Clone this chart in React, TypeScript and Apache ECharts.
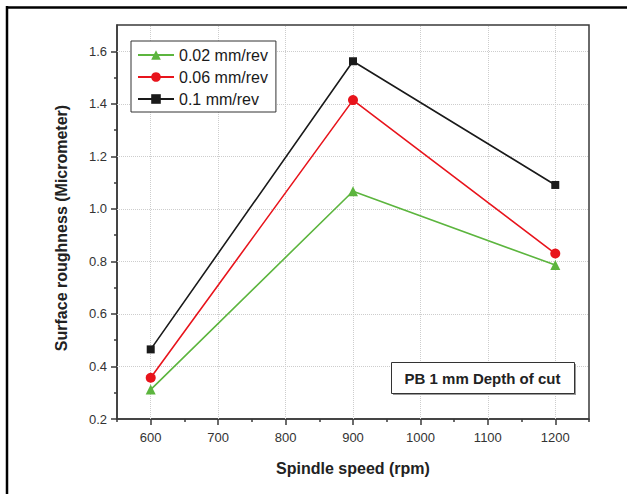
import React, { useEffect, useRef } from "react";
import * as echarts from "echarts";

const speeds = [600, 900, 1200];
const feed002 = [0.312, 1.067, 0.786];
const feed006 = [0.357, 1.414, 0.83];
const feed01 = [0.465, 1.562, 1.091];

const seriesNames = ["0.02 mm/rev", "0.06 mm/rev", "0.1 mm/rev"];
const xMajor = [600, 700, 800, 900, 1000, 1100, 1200];
const xMinor = [550, 650, 750, 850, 950, 1050, 1150, 1250];
const yMajor = [0.2, 0.4, 0.6, 0.8, 1.0, 1.2, 1.4, 1.6];
const yMinor = [0.3, 0.5, 0.7, 0.9, 1.1, 1.3, 1.5];
const annotation = "PB 1 mm Depth of cut";

const FONT = "'Liberation Sans', Arial, sans-serif";

export default function App() {
  const ref = useRef<HTMLDivElement>(null);
  useEffect(() => {
    const chart = echarts.init(ref.current!, null, { renderer: "svg" });
    const pairs = (vals: number[]) => speeds.map((s, i) => [s, vals[i]]);
    const axisLineStyle = { color: "#3a3a3a", width: 1.5 };
    chart.setOption({
      animation: false,
      backgroundColor: "#fff",
      grid: {
        left: 117,
        top: 25,
        right: 38,
        bottom: 75,
        show: true,
        borderColor: "#3a3a3a",
        borderWidth: 1.5,
        backgroundColor: "transparent",
      },
      legend: {
        orient: "vertical",
        left: 131,
        top: 41,
        padding: [6, 8, 5, 6],
        itemWidth: 36,
        itemHeight: 12,
        itemGap: 6,
        borderColor: "#333",
        borderWidth: 1,
        backgroundColor: "#fff",
        textStyle: { fontFamily: FONT, fontSize: 16, color: "#1a1a1a" },
        data: seriesNames,
      },
      xAxis: [
        {
          type: "value",
          min: 550,
          max: 1250,
          position: "bottom",
          name: "Spindle speed (rpm)",
          nameLocation: "middle",
          nameGap: 41,
          nameTextStyle: { fontFamily: FONT, fontSize: 16, fontWeight: "bold", color: "#222" },
          axisLine: { show: true, onZero: false, lineStyle: axisLineStyle },
          axisTick: { show: true, customValues: xMajor, length: 6, lineStyle: axisLineStyle },
          axisLabel: {
            customValues: xMajor,
            margin: 12,
            fontFamily: FONT,
            fontSize: 13,
            color: "#333",
            formatter: (v: number) => String(v),
          },
          splitLine: { show: false },
        },
        {
          type: "value",
          min: 550,
          max: 1250,
          position: "bottom",
          axisLine: { show: false, onZero: false },
          axisTick: { show: true, customValues: xMinor, length: 3, lineStyle: axisLineStyle },
          axisLabel: { show: false },
          splitLine: { show: false },
        },
      ],
      yAxis: [
        {
          type: "value",
          min: 0.2,
          max: 1.7,
          position: "left",
          name: "Surface roughness (Micrometer)",
          nameLocation: "middle",
          nameGap: 48,
          nameTextStyle: {
            fontFamily: FONT,
            fontSize: 16,
            fontWeight: "bold",
            color: "#222",
            padding: [0, 12, 0, 0],
          },
          axisLine: { show: true, onZero: false, lineStyle: axisLineStyle },
          axisTick: { show: true, customValues: yMajor, length: 6, lineStyle: axisLineStyle },
          axisLabel: {
            customValues: yMajor,
            margin: 10,
            fontFamily: FONT,
            fontSize: 13,
            color: "#333",
            formatter: (v: number) => v.toFixed(1),
          },
          splitLine: { show: false },
        },
        {
          type: "value",
          min: 0.2,
          max: 1.7,
          position: "left",
          axisLine: { show: false, onZero: false },
          axisTick: { show: true, customValues: yMinor, length: 3, lineStyle: axisLineStyle },
          axisLabel: { show: false },
          splitLine: { show: false },
        },
      ],
      series: [
        {
          name: seriesNames[0],
          type: "line",
          data: pairs(feed002),
          symbol: "triangle",
          symbolSize: 10,
          itemStyle: { color: "#5cb53e" },
          lineStyle: { color: "#5cb53e", width: 1.6 },
          z: 3,
          markLine: {
            silent: true,
            symbol: "none",
            z: 1,
            label: { show: false },
            emphasis: { disabled: true },
            lineStyle: { type: "dotted", color: "#cdcdcd", width: 1 },
            data: [
              ...xMajor.map((v) => ({ xAxis: v })),
              ...yMajor.slice(1).map((v) => ({ yAxis: v })),
            ],
          },
        },
        {
          name: seriesNames[1],
          type: "line",
          data: pairs(feed006),
          symbol: "circle",
          symbolSize: 10,
          itemStyle: { color: "#e8141c" },
          lineStyle: { color: "#e8141c", width: 1.6 },
          z: 4,
        },
        {
          name: seriesNames[2],
          type: "line",
          data: pairs(feed01),
          symbol: "rect",
          symbolSize: 8,
          itemStyle: { color: "#1a1a1a" },
          lineStyle: { color: "#1a1a1a", width: 1.6 },
          z: 5,
        },
      ],
      graphic: [
        {
          type: "line",
          shape: { x1: 6, y1: 7.5, x2: 627, y2: 7.5 },
          style: { stroke: "#000", lineWidth: 2.5 },
        },
        {
          type: "line",
          shape: { x1: 7, y1: 6, x2: 7, y2: 494 },
          style: { stroke: "#000", lineWidth: 2.5 },
        },
        {
          type: "rect",
          left: 393,
          top: 364,
          shape: { width: 183, height: 31 },
          style: { fill: "#9a9a9a" },
          z: 10,
        },
        {
          type: "rect",
          left: 391,
          top: 362,
          shape: { width: 183, height: 31 },
          style: { fill: "#fff", stroke: "#333", lineWidth: 1 },
          z: 11,
        },
        {
          type: "text",
          x: 482.5,
          y: 378,
          style: {
            text: annotation,
            fontFamily: FONT,
            fontSize: 15,
            fontWeight: "bold",
            fill: "#222",
            align: "center",
            verticalAlign: "middle",
          },
          z: 12,
        },
      ],
    });
    return () => chart.dispose();
  }, []);
  return (
    <div
      ref={ref}
      style={{ position: "fixed", left: 0, top: 0, width: 627, height: 494, background: "#fff" }}
    />
  );
}
